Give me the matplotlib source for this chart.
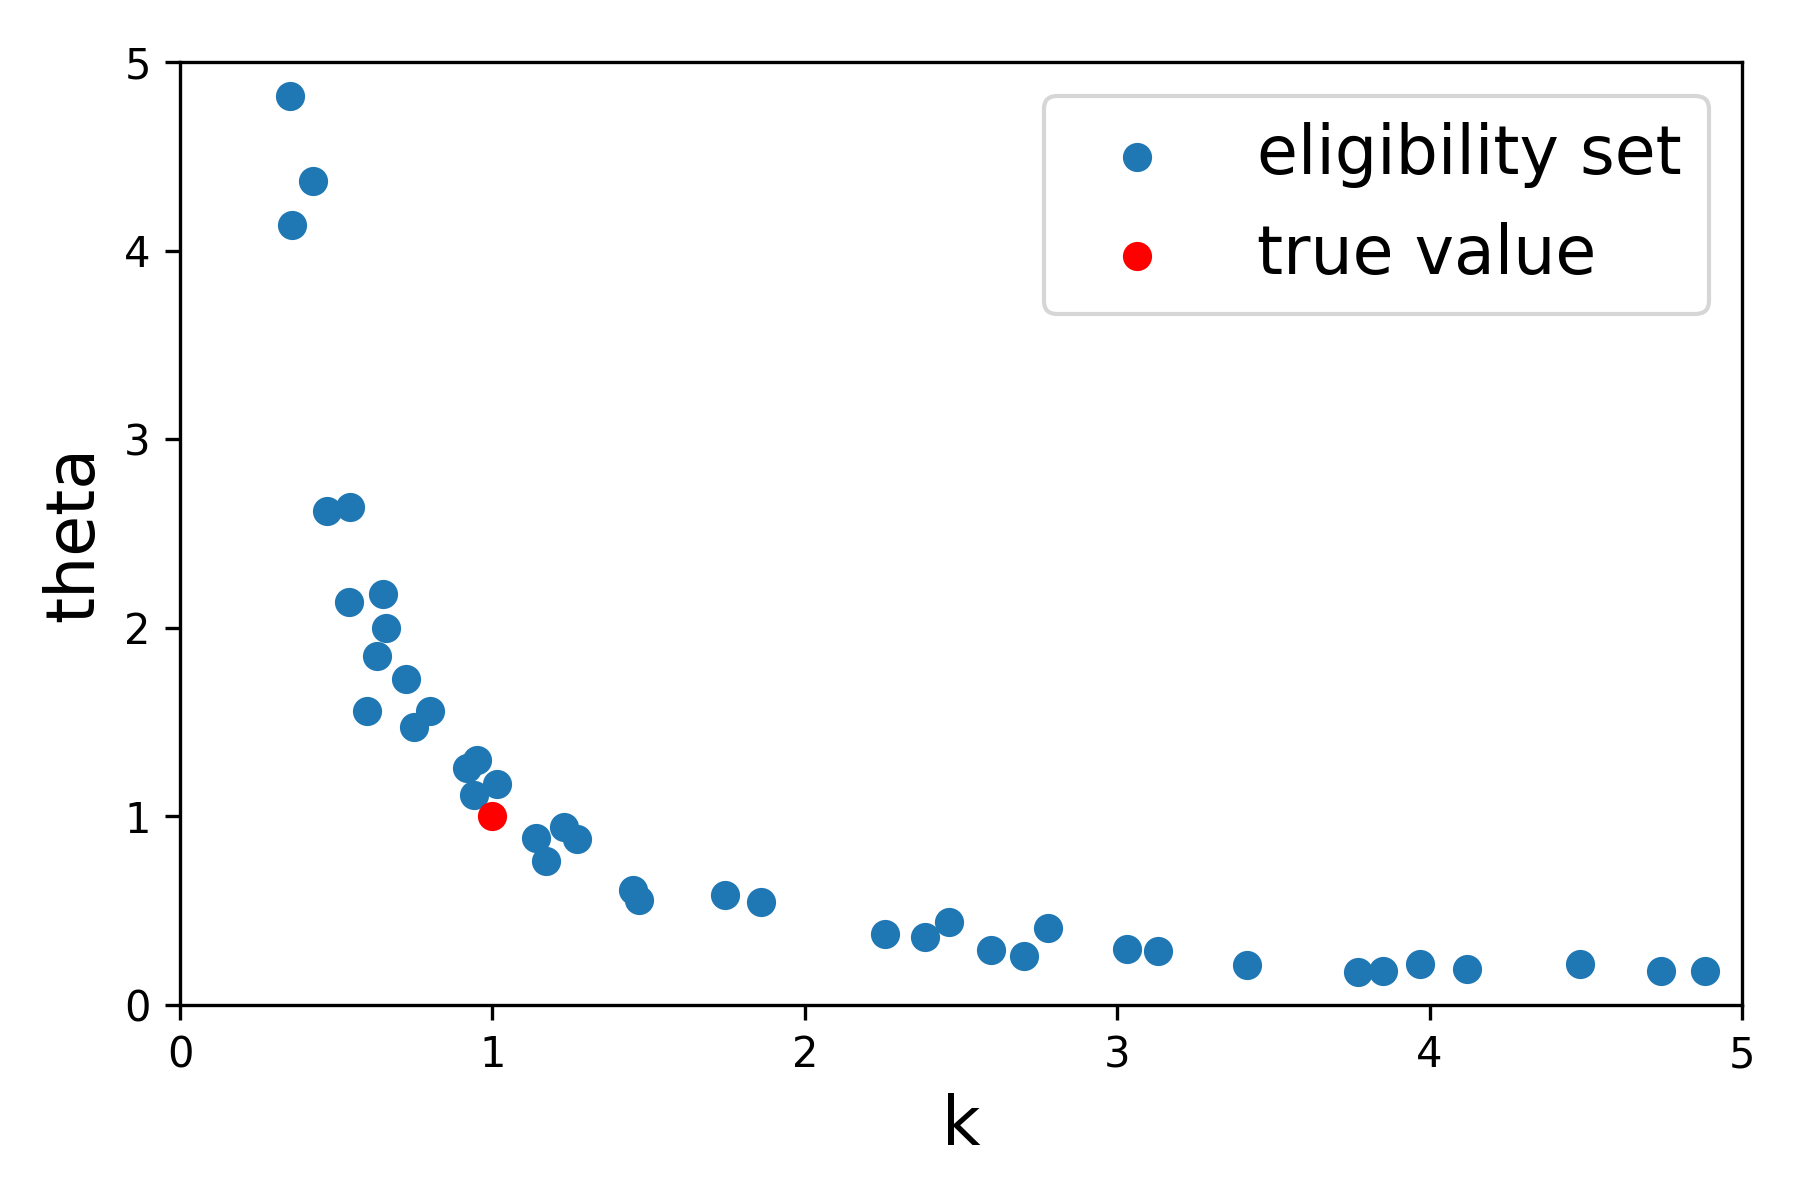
import numpy as np
from matplotlib import pyplot as plt

# eligibility set (k, theta)
k = np.array([0.353, 0.426, 0.357, 0.47, 0.544, 0.54, 0.65, 0.66, 0.63, 0.724,
              0.60, 0.80, 0.75, 0.92, 0.95, 0.94, 1.015, 1.14, 1.23, 1.27,
              1.17, 1.45, 1.47, 1.746, 1.86, 2.257, 2.386, 2.46, 2.596, 2.70,
              2.78, 3.03, 3.13, 3.415, 3.77, 3.85, 3.97, 4.12, 4.48, 4.74, 4.88])
theta = np.array([4.82, 4.37, 4.14, 2.62, 2.64, 2.14, 2.18, 2.00, 1.85, 1.73,
                  1.56, 1.56, 1.475, 1.256, 1.30, 1.116, 1.17, 0.884, 0.945, 0.878,
                  0.762, 0.61, 0.555, 0.585, 0.549, 0.378, 0.36, 0.439, 0.293, 0.262,
                  0.408, 0.299, 0.287, 0.213, 0.177, 0.183, 0.22, 0.189, 0.22, 0.183, 0.183])

k_true = [1.0]
theta_true = [1.0]

fig = plt.figure(figsize=(6, 4), dpi=300)
plt.scatter(k, theta, label='eligibility set')
plt.scatter(k_true, theta_true, color='red', label='true value')
plt.xlim(0, 5)
plt.ylim(0, 5)
plt.xlabel('k', fontsize=16)
plt.ylabel('theta', fontsize=16)
plt.legend(fontsize=16, loc='upper right')
plt.subplots_adjust(left=0.1, right=0.9678, top=0.948, bottom=0.1625)
plt.savefig('out.png')
